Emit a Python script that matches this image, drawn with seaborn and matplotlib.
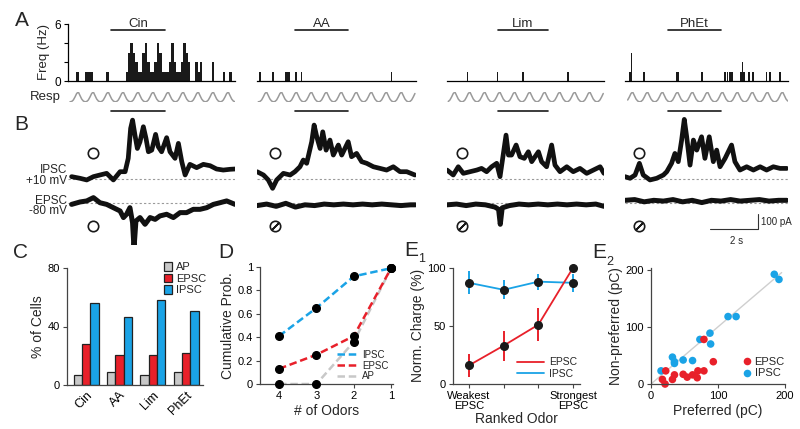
import numpy as np
import pandas as pd
import matplotlib
matplotlib.use("Agg")
import matplotlib.pyplot as plt
from matplotlib.lines import Line2D
import seaborn as sns

# ---------------- data ----------------
odors = ["Cin", "AA", "Lim", "PhEt"]
odor_on = [1.79, 1.58, 2.12, 1.79]    # s
odor_off = [4.04, 3.79, 4.21, 4.00]

# A: spike frequency histograms (bar time in s, height in Hz)
cin_hist_t = [0.40, 0.78, 0.88, 0.97, 1.65,
              2.45, 2.55, 2.65, 2.75, 2.85, 2.95, 3.05, 3.15, 3.25, 3.35,
              3.45, 3.55, 3.65, 3.75, 3.85, 3.95, 4.05, 4.15, 4.25, 4.35,
              4.45, 4.55, 4.65, 4.75, 4.85, 4.95, 5.05,
              5.35, 5.45, 5.55, 6.05, 6.50, 6.78]
cin_hist_h = [1, 1, 1, 1, 1,
              1, 3, 4, 3, 2, 1, 1, 3, 4, 2,
              1, 1, 2, 4, 3, 1, 1, 1, 2, 4,
              2, 1, 1, 2, 4, 3, 2,
              2, 1, 2, 2, 1, 1]
aa_hist_t = [0.12, 0.68, 1.20, 1.26, 1.32, 1.62, 1.86, 5.61]
aa_hist_h = [1, 1, 1, 1, 1, 1, 1, 1]
lim_hist_t = [0.86, 2.10, 3.17, 5.04]
lim_hist_h = [1, 1, 1, 1]
phet_hist_t = [0.22, 0.27, 0.79, 2.16, 2.22, 3.21, 4.17, 4.27, 4.37, 4.45,
               4.82, 4.89, 4.95, 5.18, 5.32, 5.90, 6.04, 6.47]
phet_hist_h = [1, 3, 1, 1, 1, 1, 1, 1, 1, 1,
               1, 2, 1, 1, 1, 1, 1, 1]

# respiration: one breathing cycle (normalised) and first peak time per odor
resp_cycle = [0.05, 0.2, 0.5, 0.85, 1.0, 0.65, 0.3, 0.1, 0.02]
resp_period = 0.625
resp_peak = [0.43, 0.40, 0.33, 0.32]

# B: currents (time s, pA re. baseline)
cin_ipsc_t = [0.15, 0.50, 0.78, 1.06, 1.33, 1.61, 1.89, 2.17, 2.38, 2.51, 2.61,
              2.69, 2.79, 2.89, 3.00, 3.14, 3.25, 3.35, 3.49, 3.65, 3.76, 3.90,
              4.11, 4.25, 4.46, 4.60, 4.74, 4.88, 5.08, 5.36, 5.64, 5.92, 6.19,
              6.47, 6.75, 6.96]
cin_ipsc = [18, 7, -4, 18, 29, 40, -4, 51, 51, 140, 340, 395, 295, 206, 251,
            351, 273, 184, 195, 300, 218, 184, 278, 184, 140, 240, 118, 29,
            100, 78, 100, 91, 69, 62, 67, 69]
cin_epsc_t = [0.15, 0.50, 0.78, 1.06, 1.33, 1.61, 1.89, 2.17, 2.31, 2.44, 2.58,
              2.69, 2.75, 2.83, 3.00, 3.21, 3.42, 3.63, 3.83, 4.11, 4.39, 4.67,
              4.94, 5.22, 5.50, 5.78, 6.06, 6.33, 6.61, 6.96]
cin_epsc = [-7, 9, 16, 38, 4, -7, -29, -51, -95, -73, -29, -129, -300, -118,
            -95, -140, -95, -107, -84, -73, -95, -62, -62, -40, -40, -29, -7,
            4, 16, -7]
aa_ipsc_t = [0.00, 0.27, 0.47, 0.65, 0.82, 1.10, 1.38, 1.58, 1.79, 1.93, 2.07,
             2.28, 2.38, 2.49, 2.63, 2.74, 2.88, 3.04, 3.18, 3.39, 3.53, 3.80,
             3.94, 4.15, 4.36, 4.57, 4.85, 5.13, 5.40, 5.68, 5.96, 6.24, 6.58]
aa_ipsc = [51, 29, -4, -60, -4, 40, 29, 51, 84, 129, 107, 251, 362, 284, 206,
           317, 195, 262, 162, 229, 162, 251, 151, 173, 118, 107, 84, 73, 62,
           84, 51, 51, 29]
aa_epsc_t = [0.0, 0.4, 0.8, 1.2, 1.6, 2.0, 2.4, 2.8, 3.2, 3.6, 4.0, 4.4, 4.8,
             5.2, 5.6, 6.0, 6.4, 6.6]
aa_epsc = [-15, -5, -20, 0, -25, -10, -15, -5, -10, -5, -10, -5, -10, -5,
           -10, -15, -10, -10]
lim_ipsc_t = [0.00, 0.26, 0.47, 0.68, 0.96, 1.24, 1.44, 1.65, 1.86, 2.07, 2.21,
              2.35, 2.46, 2.56, 2.69, 2.88, 3.04, 3.22, 3.39, 3.53, 3.81, 3.94,
              4.15, 4.36, 4.50, 4.71, 4.99, 5.26, 5.54, 5.82, 6.10, 6.38, 6.54]
lim_ipsc = [62, 29, 84, 40, 51, 62, 73, 51, 84, 107, 18, 173, 295, 162, 162,
            229, 151, 140, 184, 118, 184, 118, 84, 229, 95, 51, 84, 51, 73, 40,
            62, 84, 40]
lim_epsc_t = [0.0, 0.4, 0.8, 1.2, 1.6, 2.0, 2.15, 2.22, 2.3, 2.6, 3.0, 3.4,
              3.8, 4.2, 4.6, 5.0, 5.4, 5.8, 6.2, 6.54]
lim_epsc = [-10, -5, -15, -5, -10, -25, -40, -140, -30, -15, -5, -10, -5,
            -10, -5, -10, -5, -10, -5, -20]
phet_ipsc_t = [0.00, 0.21, 0.42, 0.60, 0.76, 1.04, 1.32, 1.60, 1.74, 1.94,
               2.08, 2.22, 2.36, 2.47, 2.57, 2.71, 2.85, 2.99, 3.19, 3.33,
               3.51, 3.68, 3.82, 3.96, 4.17, 4.44, 4.58, 4.79, 5.07, 5.35,
               5.63, 5.90, 6.18, 6.46, 6.74]
phet_ipsc = [18, 7, 29, 107, 29, -4, 7, 29, 51, 107, 173, 118, 262, 400, 284,
             95, 262, 195, 284, 140, 284, 118, 195, 84, 140, 229, 118, 62, 84,
             62, 84, 62, 84, 73, 73]
phet_epsc_t = [0.0, 0.4, 0.8, 1.2, 1.6, 2.0, 2.4, 2.8, 3.2, 3.6, 4.0, 4.4,
               4.8, 5.2, 5.6, 6.0, 6.4, 6.74]
phet_epsc = [20, 25, 10, 20, 15, 25, 10, 20, 5, 20, 15, 25, 15, 20, 25, 15,
             20, 20]
epsc_response = [True, False, False, False]

# C: % of cells responding
resp_types = ["AP", "EPSC", "IPSC"]
pct_ap = [7, 9, 7, 9]
pct_epsc = [28, 20.5, 20.5, 22]
pct_ipsc = [56, 46.5, 58, 50.5]

# D: cumulative probability vs number of odors
d_odors = [4, 3, 2, 1]
d_ipsc = [0.41, 0.65, 0.92, 0.99]
d_epsc = [0.13, 0.25, 0.41, 0.99]
d_ap = [0.0, 0.0, 0.36, 0.99]

# E1: normalised charge vs ranked odor
e1_rank = [1, 2, 3, 4]
e1_epsc = [16, 33, 51, 100]
e1_epsc_err = [10, 13, 14, 0]
e1_ipsc = [87, 81, 88, 87]
e1_ipsc_err = [10, 8, 7, 8]

# E2: preferred vs non-preferred charge (pC)
e2_epsc_pref = [22, 17, 21, 32, 35, 48, 54, 62, 70, 69, 79, 79, 93]
e2_epsc_non = [23, 8, 0, 8, 16, 17, 12, 16, 23, 11, 23, 78, 39]
e2_ipsc_pref = [15, 32, 35, 35, 48, 62, 73, 88, 89, 115, 127, 184, 191]
e2_ipsc_non = [23, 47, 39, 36, 42, 41, 78, 89, 70, 118, 118, 192, 183]

hist_t = [cin_hist_t, aa_hist_t, lim_hist_t, phet_hist_t]
hist_h = [cin_hist_h, aa_hist_h, lim_hist_h, phet_hist_h]
ipsc_t = [cin_ipsc_t, aa_ipsc_t, lim_ipsc_t, phet_ipsc_t]
ipsc = [cin_ipsc, aa_ipsc, lim_ipsc, phet_ipsc]
epsc_t = [cin_epsc_t, aa_epsc_t, lim_epsc_t, phet_epsc_t]
epsc = [cin_epsc, aa_epsc, lim_epsc, phet_epsc]

# ---------------- style ----------------
C_GRAY = "#c8c8c8"
C_RED = "#e8202a"
C_BLUE = "#1aa3e6"
C_AX = "#444444"

sns.set_theme(style="ticks")
plt.rcParams["font.family"] = ["Liberation Sans", "DejaVu Sans"]
plt.rcParams.update({
    "axes.linewidth": 0.9,
    "axes.edgecolor": C_AX,
    "xtick.color": C_AX,
    "ytick.color": C_AX,
    "xtick.labelcolor": "black",
    "ytick.labelcolor": "black",
    "xtick.labelsize": 8,
    "ytick.labelsize": 8,
    "axes.labelsize": 10,
    "xtick.major.size": 3,
    "ytick.major.size": 3,
    "xtick.major.width": 0.8,
    "ytick.major.width": 0.8,
    "xtick.major.pad": 2,
    "ytick.major.pad": 2,
    "axes.labelpad": 2,
})

W, H = 800, 429
fig = plt.figure(figsize=(W / 100, H / 100), dpi=100)


def px_axes(x0, y0, x1, y1):
    return fig.add_axes([x0 / W, 1 - y1 / H, (x1 - x0) / W, (y1 - y0) / H])


def fig_text(x, y, s, **kw):
    fig.text(x / W, 1 - y / H, s, **kw)


PX_PER_S = 24.0
panel_left = [68, 257, 447, 625]
panel_right = [235, 416, 604, 788]
EPSC_OFFSET = -160  # pA, vertical offset of EPSC trace

for i, name in enumerate(odors):
    x0, x1 = panel_left[i], panel_right[i]
    dur = (x1 - x0) / PX_PER_S

    # --- A: histogram ---
    ax = px_axes(x0, 24, x1, 81.3)
    ax.bar(hist_t[i], hist_h[i], width=0.105 if i == 0 else 0.07,
           color="#1a1a1a", linewidth=0)
    ax.set_xlim(0, dur)
    ax.set_ylim(0, 6)
    ax.plot([odor_on[i], odor_off[i]], [5.37, 5.37], color="k", lw=1.2,
            clip_on=False)
    ax.text((odor_on[i] + odor_off[i]) / 2, 6.05, name, ha="center",
            va="center", fontsize=9.5)
    ax.set_xticks([])
    ax.spines["bottom"].set_color("black")
    ax.spines["left"].set_color("black")
    if i == 0:
        sns.despine(ax=ax)
        ax.set_yticks([0, 2, 4, 6])
        ax.set_yticklabels(["0", "", "", "6"], fontsize=8.5)
        ax.tick_params(axis="y", colors="black", length=3)
    else:
        sns.despine(ax=ax, left=True)
        ax.set_yticks([])

    # --- A: respiration ---
    axr = px_axes(x0, 92, x1, 102)
    n_cyc = int(dur / resp_period) + 3
    r_vals = np.tile(resp_cycle, n_cyc)
    start = resp_peak[i] - 4 * resp_period / len(resp_cycle) - resp_period
    r_t = start + np.arange(len(r_vals)) * resp_period / len(resp_cycle)
    keep = (r_t >= 0.05) & (r_t <= dur)
    axr.plot(r_t[keep], np.array(r_vals)[keep], color="#9a9a9a", lw=1.1)
    axr.set_xlim(0, dur)
    axr.set_ylim(0, 1)
    axr.axis("off")

    # --- B: currents ---
    axb = px_axes(x0, 105, x1, 245)
    axb.set_xlim(0, dur)
    axb.set_ylim(-438, 496)
    axb.axis("off")
    axb.plot([0, dur], [0, 0], color="#9a9a9a", lw=0.8, ls=(0, (2, 2)),
             zorder=1)
    axb.plot([0, dur], [EPSC_OFFSET, EPSC_OFFSET], color="#9a9a9a", lw=0.8,
             ls=(0, (2, 2)), zorder=1)
    axb.plot(ipsc_t[i], ipsc[i], color="#111111", lw=3.4,
             solid_joinstyle="round", zorder=2)
    axb.plot(epsc_t[i], np.array(epsc[i]) + EPSC_OFFSET, color="#111111",
             lw=3.6, solid_joinstyle="round", zorder=2)
    axb.plot([odor_on[i], odor_off[i]], [453, 453], color="k", lw=1.2)
    circ_t = [1.04, 0.75, 0.61, 0.60][i]
    axb.plot(circ_t, 173, marker="o", ms=7.5, mfc="white", mec="k", mew=1.2)
    axb.plot(circ_t, -309, marker="o", ms=7.5, mfc="white", mec="k", mew=1.2)
    if not epsc_response[i]:
        axb.plot(circ_t, -309, marker=(2, 2, -45), ms=7.5, mec="k", mew=1.2)

    if i == 3:
        axb.plot([3.54, 5.54, 5.54], [-333, -333, -233], color="#333333",
                 lw=0.8)
        axb.text(5.66, -283, "100 pA", fontsize=7, va="center", ha="left")
        axb.text(4.65, -375, "2 s", fontsize=7, va="top", ha="center")

# labels for A/B
fig_text(44, 52, "Freq (Hz)", rotation=90, ha="center", va="center",
         fontsize=9.5)
fig_text(61, 97, "Resp", ha="right", va="center", fontsize=9.5)
fig_text(67, 170, "IPSC", ha="right", va="center", fontsize=8.5)
fig_text(67, 180.5, "+10 mV", ha="right", va="center", fontsize=8.5)
fig_text(67, 201, "EPSC", ha="right", va="center", fontsize=8.5)
fig_text(67, 211.5, "-80 mV", ha="right", va="center", fontsize=8.5)

# panel letters
for lx, ly, s in [(22, 21, "A"), (21, 125, "B"), (20, 252, "C"),
                  (226, 252, "D"), (411, 250, "E"), (599, 253, "E")]:
    fig_text(lx, ly, s, ha="center", va="center", fontsize=15)
fig_text(422, 259, "1", ha="center", va="center", fontsize=9)
fig_text(610, 262, "2", ha="center", va="center", fontsize=9)

# ---------------- C ----------------
axC = px_axes(67, 268, 203, 385)
c_df = pd.DataFrame({
    "odor": odors * 3,
    "type": ["AP"] * 4 + ["EPSC"] * 4 + ["IPSC"] * 4,
    "pct": pct_ap + pct_epsc + pct_ipsc,
})
sns.barplot(data=c_df, x="odor", y="pct", hue="type", order=odors,
            hue_order=resp_types, palette=[C_GRAY, C_RED, C_BLUE],
            saturation=1, edgecolor="#222222", linewidth=0.9, width=0.75,
            errorbar=None, ax=axC)
axC.set_xlim(-0.57, 3.51)
axC.set_ylim(0, 80)
axC.set_yticks([0, 40, 80])
axC.set_xlabel("")
axC.set_ylabel("% of Cells")
axC.tick_params(axis="x", length=0, pad=3, labelsize=9)
plt.setp(axC.get_xticklabels(), rotation=45, ha="right",
         rotation_mode="anchor")
sns.despine(ax=axC)
h, l = axC.get_legend_handles_labels()
axC.legend(h, l, loc="upper left", bbox_to_anchor=(0.71, 1.05),
           frameon=False, fontsize=8, handlelength=0.8, handleheight=0.8,
           handletextpad=0.3, labelspacing=0.12, borderaxespad=0,
           borderpad=0)

# ---------------- D ----------------
axD = px_axes(260, 267, 393, 384)
for vals, col, lab in [(d_ap, C_GRAY, "AP"), (d_epsc, C_RED, "EPSC"),
                       (d_ipsc, C_BLUE, "IPSC")]:
    axD.plot(d_odors, vals, color=col, lw=1.8, ls=(0, (3, 1.5)), label=lab,
             zorder=2)
    axD.plot(d_odors, vals, ls="none", marker="o", ms=5.5, color="black",
             clip_on=False, zorder=3)
axD.set_xlim(4.51, 0.95)
axD.set_ylim(0, 1)
axD.set_xticks(d_odors)
axD.set_yticks([0, 0.2, 0.4, 0.6, 0.8, 1])
axD.set_yticklabels(["0", "0.2", "0.4", "0.6", "0.8", "1"])
axD.set_xlabel("# of Odors")
axD.set_ylabel("Cumulative Prob.")
sns.despine(ax=axD)
dh = [Line2D([], [], color=C_BLUE, lw=1.8, ls=(0, (3, 1.5))),
      Line2D([], [], color=C_RED, lw=1.8, ls=(0, (3, 1.5))),
      Line2D([], [], color=C_GRAY, lw=1.8, ls=(0, (3, 1.5)))]
axD.legend(dh, ["IPSC", "EPSC", "AP"], loc="lower right",
           bbox_to_anchor=(1.0, -0.02), frameon=False, fontsize=7,
           handlelength=2.2, handletextpad=0.3, labelspacing=0.1,
           borderpad=0)

# ---------------- E1 ----------------
axE1 = px_axes(453, 267.7, 580, 384)
axE1.errorbar(e1_rank, e1_ipsc, yerr=e1_ipsc_err, color=C_BLUE, lw=1.3,
              elinewidth=1.4, marker="o", ms=5.5, mfc="#1a1a1a",
              mec="#1a1a1a", capsize=0, clip_on=False, zorder=2)
axE1.errorbar(e1_rank, e1_epsc, yerr=e1_epsc_err, color=C_RED, lw=1.3,
              elinewidth=1.4, marker="o", ms=5.5, mfc="#1a1a1a",
              mec="#1a1a1a", capsize=0, clip_on=False, zorder=3)
axE1.set_xlim(0.54, 4.2)
axE1.set_ylim(0, 100)
axE1.set_yticks([0, 50, 100])
axE1.set_xticks(e1_rank)
axE1.set_xticklabels(["Weakest\nEPSC", "", "", "Strongest\nEPSC"],
                     linespacing=1.0)
axE1.set_xlabel("Ranked Odor", labelpad=1)
axE1.set_ylabel("Norm. Charge (%)")
sns.despine(ax=axE1)
eh = [Line2D([], [], color=C_RED, lw=1.3), Line2D([], [], color=C_BLUE, lw=1.3)]
axE1.legend(eh, ["EPSC", "IPSC"], loc="lower right",
            bbox_to_anchor=(1.02, 0.0), frameon=False, fontsize=7.5,
            handlelength=2.6, handletextpad=0.5, labelspacing=0.15,
            borderpad=0)

# ---------------- E2 ----------------
axE2 = px_axes(651, 268, 785, 384)
e2_df = pd.DataFrame({
    "pref": e2_ipsc_pref + e2_epsc_pref,
    "nonpref": e2_ipsc_non + e2_epsc_non,
    "type": ["IPSC"] * len(e2_ipsc_pref) + ["EPSC"] * len(e2_epsc_pref),
})
axE2.plot([0, 195], [0, 195], color="#cfcfcf", lw=1.0, zorder=1)
sns.scatterplot(data=e2_df, x="pref", y="nonpref", hue="type",
                hue_order=["EPSC", "IPSC"], palette=[C_RED, C_BLUE], s=30,
                linewidth=0, ax=axE2, zorder=2, clip_on=False)
axE2.set_xlim(0, 200)
axE2.set_ylim(0, 203)
axE2.set_xticks([0, 100, 200])
axE2.set_yticks([0, 100, 200])
axE2.set_xlabel("Preferred (pC)")
axE2.set_ylabel("Non-preferred (pC)")
sns.despine(ax=axE2)
h2, l2 = axE2.get_legend_handles_labels()
axE2.legend(h2, l2, loc="lower right", bbox_to_anchor=(1.04, 0.0),
            frameon=False, fontsize=8, handlelength=0.8, handletextpad=0.3,
            labelspacing=0.15, borderpad=0, markerscale=1.0)

fig.savefig("out.png", dpi=100)
